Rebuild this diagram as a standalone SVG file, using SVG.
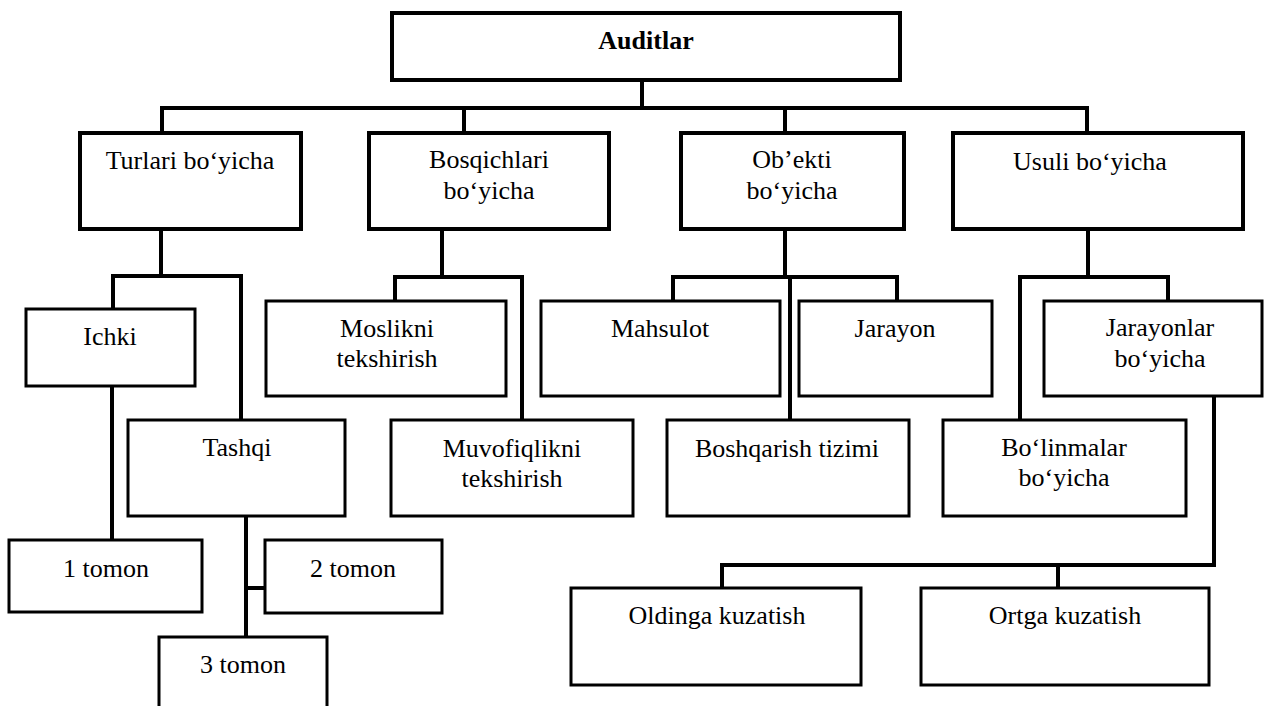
<svg xmlns="http://www.w3.org/2000/svg" width="1272" height="706" viewBox="0 0 1272 706">
  <style>
    .box { fill: #fff; stroke: #000; stroke-width: 3; }
    .box.main { stroke-width: 4; }
    .wire { fill: none; stroke: #000; stroke-width: 4; stroke-linejoin: miter; stroke-linecap: square; }
    text { font-family: "Times New Roman", "Liberation Serif", Times, "DejaVu Serif", serif; font-size: 26px; fill: #000; text-anchor: middle; }
    .title { font-weight: bold; }
  </style>
  <rect width="1272" height="706" fill="#fff"/>

  <!-- connectors -->
  <g id="connectors" class="wire">
    <path d="M642,80 V108 M162,133 V108 H1087 V133 M464,108 V133 M785,108 V133"/>
    <path d="M161,229 V276 M113,309 V276 H241 V420 M112,386 V540 M246,516 V637 M246,588 H265"/>
    <path d="M442,229 V277 M395,301 V277 H522 V420"/>
    <path d="M785,229 V277 M673,301 V277 H897 V301 M790,277 V420"/>
    <path d="M1088,229 V277 M1020,420 V277 H1168 V301 M1214,396 V565 H722 V588 M1058,565 V588"/>
  </g>

  <g id="auditlar">
    <rect class="box main" x="392" y="13" width="508" height="67"/>
    <text class="title" x="646" y="49">Auditlar</text>
  </g>

  <g id="turlari">
    <rect class="box main" x="80" y="133" width="221" height="96"/>
    <text x="190" y="169">Turlari bo‘yicha</text>
  </g>
  <g id="bosqichlari">
    <rect class="box main" x="369" y="133" width="240" height="96"/>
    <text x="489" y="168">Bosqichlari</text>
    <text x="489" y="199">bo‘yicha</text>
  </g>
  <g id="obekti">
    <rect class="box main" x="681" y="133" width="223" height="96"/>
    <text x="792" y="168">Ob’ekti</text>
    <text x="792" y="199">bo‘yicha</text>
  </g>
  <g id="usuli">
    <rect class="box main" x="953" y="133" width="290" height="96"/>
    <text x="1090" y="170">Usuli bo‘yicha</text>
  </g>

  <g id="ichki">
    <rect class="box" x="26" y="309" width="169" height="77"/>
    <text x="110" y="345">Ichki</text>
  </g>
  <g id="tashqi">
    <rect class="box" x="128" y="420" width="217" height="96"/>
    <text x="237" y="456">Tashqi</text>
  </g>
  <g id="moslikni">
    <rect class="box" x="266" y="301" width="240" height="95"/>
    <text x="387" y="337">Moslikni</text>
    <text x="387" y="367">tekshirish</text>
  </g>
  <g id="muvofiqlikni">
    <rect class="box" x="391" y="420" width="242" height="96"/>
    <text x="512" y="457">Muvofiqlikni</text>
    <text x="512" y="487">tekshirish</text>
  </g>
  <g id="mahsulot">
    <rect class="box" x="541" y="301" width="239" height="95"/>
    <text x="660" y="337">Mahsulot</text>
  </g>
  <g id="jarayon">
    <rect class="box" x="799" y="301" width="193" height="95"/>
    <text x="895" y="337">Jarayon</text>
  </g>
  <g id="boshqarish">
    <rect class="box" x="667" y="420" width="242" height="96"/>
    <text x="787" y="457">Boshqarish tizimi</text>
  </g>
  <g id="jarayonlar">
    <rect class="box" x="1044" y="301" width="218" height="95"/>
    <text x="1160" y="336">Jarayonlar</text>
    <text x="1160" y="367">bo‘yicha</text>
  </g>
  <g id="bolinmalar">
    <rect class="box" x="943" y="420" width="243" height="96"/>
    <text x="1064" y="456">Bo‘linmalar</text>
    <text x="1064" y="486">bo‘yicha</text>
  </g>

  <g id="tomon1">
    <rect class="box" x="9" y="540" width="193" height="72"/>
    <text x="106" y="577">1 tomon</text>
  </g>
  <g id="tomon2">
    <rect class="box" x="265" y="540" width="177" height="73"/>
    <text x="353" y="577">2 tomon</text>
  </g>
  <g id="tomon3">
    <rect class="box" x="159" y="637" width="168" height="80"/>
    <text x="243" y="673">3 tomon</text>
  </g>

  <g id="oldinga">
    <rect class="box" x="571" y="588" width="290" height="97"/>
    <text x="717" y="624">Oldinga kuzatish</text>
  </g>
  <g id="ortga">
    <rect class="box" x="921" y="588" width="288" height="97"/>
    <text x="1065" y="624">Ortga kuzatish</text>
  </g>
</svg>
